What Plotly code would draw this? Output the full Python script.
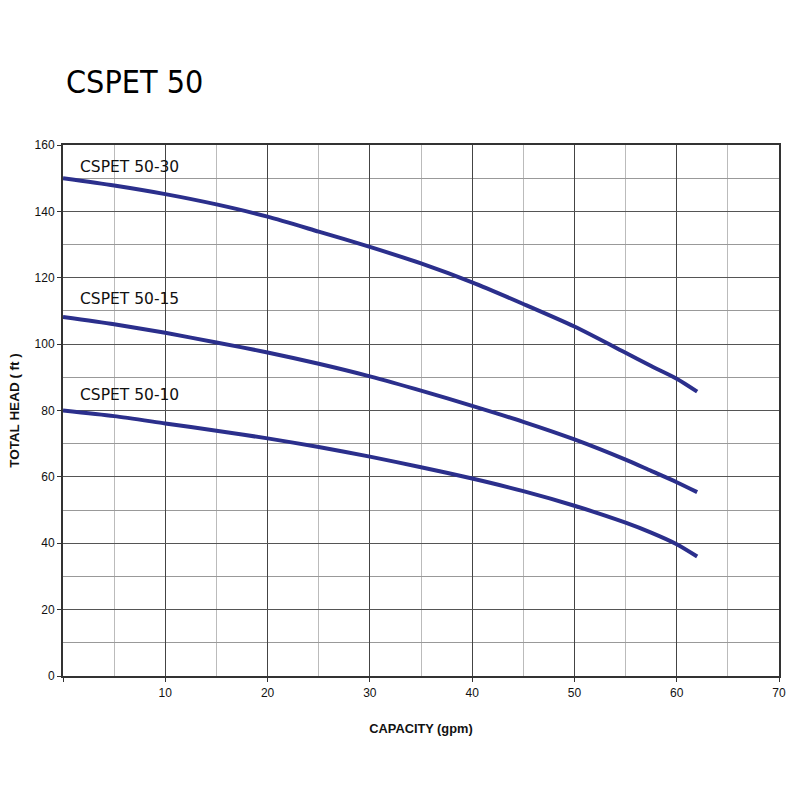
import plotly.graph_objects as go

capacity = [0, 5, 10, 15, 20, 25, 30, 35, 40, 45, 50, 55, 57.5, 60, 62]
head_50_30 = [150.0, 147.8, 145.2, 142.1, 138.4, 133.9, 129.3, 124.3, 118.6, 112.1, 105.3, 97.4, 93.4, 89.6, 85.7]
head_50_15 = [108.2, 106.0, 103.4, 100.5, 97.5, 94.1, 90.3, 86.0, 81.4, 76.6, 71.3, 65.2, 61.8, 58.4, 55.4]
head_50_10 = [80.0, 78.3, 76.1, 73.9, 71.6, 69.0, 66.1, 62.9, 59.5, 55.7, 51.3, 46.2, 43.2, 39.7, 36.0]

series_names = ["CSPET 50-30", "CSPET 50-15", "CSPET 50-10"]
label_pos_y = [153.4, 113.6, 84.7]
x_ticks = [0, 10, 20, 30, 40, 50, 60, 70]
x_tick_text = ["", "10", "20", "30", "40", "50", "60", "70"]
y_ticks = [0, 20, 40, 60, 80, 100, 120, 140, 160]

line_color = "#2b2f8c"

fig = go.Figure()
for name, ys in zip(series_names, [head_50_30, head_50_15, head_50_10]):
    fig.add_trace(go.Scatter(
        x=capacity, y=ys, mode="lines", name=name,
        line=dict(color=line_color, width=4, shape="spline", smoothing=0.7),
        showlegend=False, hoverinfo="skip",
    ))

for name, ly in zip(series_names, label_pos_y):
    fig.add_annotation(x=1.5, y=ly, text=name, showarrow=False, xanchor="left",
                       yanchor="middle", font=dict(family="DejaVu Sans", size=15.5, color="#111"))

fig.update_layout(
    width=800, height=800,
    margin=dict(l=63, r=21, t=145, b=124),
    paper_bgcolor="white", plot_bgcolor="white",
    title=dict(text="CSPET 50", x=66/800, xanchor="left", xref="container",
               y=1 - 82/800, yanchor="middle", yref="container",
               font=dict(family="DejaVu Sans Condensed, Liberation Sans Narrow, Roboto",
                         size=32, color="#000")),
    font=dict(family="Liberation Sans", color="#111"),
)

fig.update_xaxes(
    range=[0, 70], tickmode="array", tickvals=x_ticks, ticktext=x_tick_text,
    showgrid=True, gridcolor="#444", gridwidth=1,
    minor=dict(dtick=5, tick0=0, showgrid=True, gridcolor="#bbbbbb", gridwidth=1, ticks=""),
    showline=True, linecolor="#333", linewidth=2, mirror=True,
    ticks="outside", ticklen=4, tickcolor="#333", ticklabelstandoff=1,
    tickfont=dict(size=12, color="#111"),
    title=dict(text="<b>CAPACITY (gpm)</b>", font=dict(size=12.8, color="#111"), standoff=25),
    zeroline=False, fixedrange=True,
)
fig.update_yaxes(
    range=[0, 160], tickmode="array", tickvals=y_ticks,
    showgrid=True, gridcolor="#555", gridwidth=1,
    minor=dict(dtick=10, tick0=0, showgrid=True, gridcolor="#999999", gridwidth=1, ticks=""),
    showline=True, linecolor="#333", linewidth=2, mirror=True,
    ticks="outside", ticklen=4, tickcolor="#333", ticklabelstandoff=0,
    tickfont=dict(size=12, color="#111"),
    title=dict(text="<b>TOTAL HEAD ( ft )</b>", font=dict(size=13.5, color="#111"), standoff=12),
    zeroline=False, fixedrange=True,
)

fig.write_html("out.html")
